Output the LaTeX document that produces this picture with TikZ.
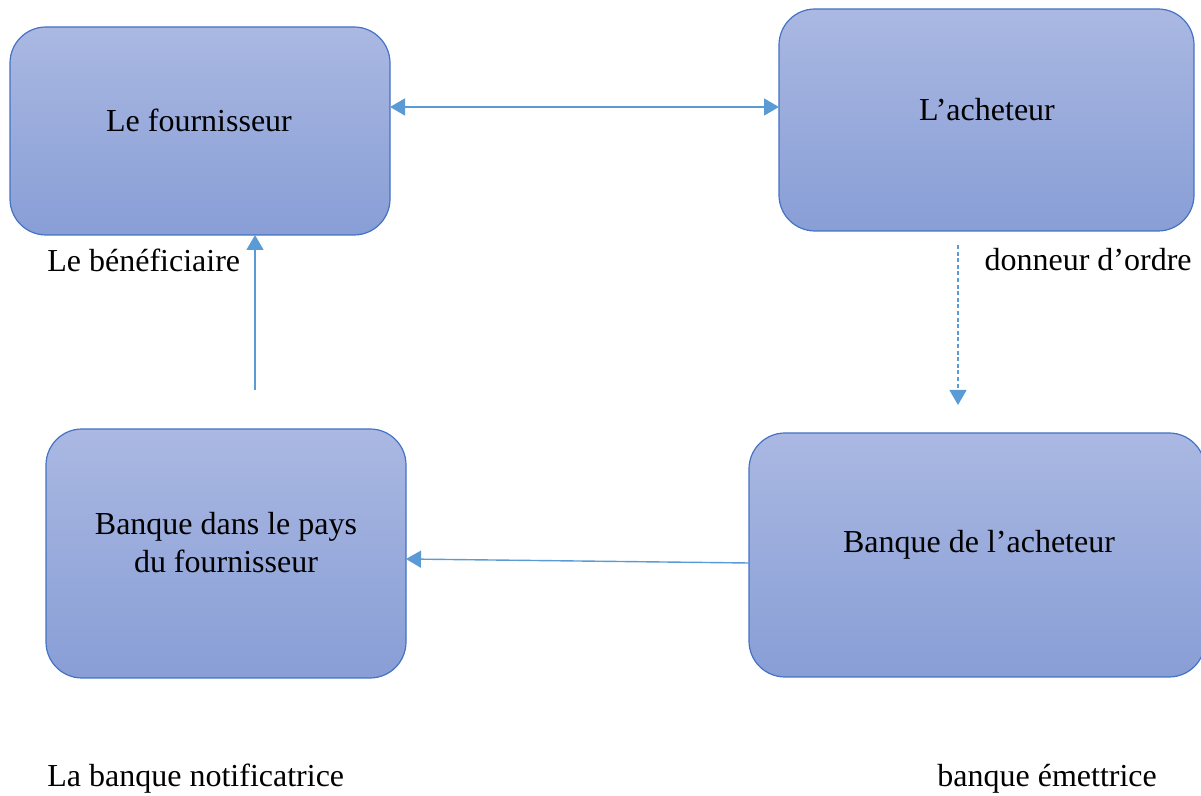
\documentclass[tikz,border=0pt]{standalone}
\usepackage{fontspec}
\setmainfont{Liberation Serif}
\usetikzlibrary{arrows.meta}
\definecolor{boxtop}{RGB}{170,184,226}
\definecolor{boxbot}{RGB}{136,158,214}
\definecolor{boxline}{RGB}{68,114,196}
\definecolor{arr}{RGB}{91,155,213}
\begin{document}
\begin{tikzpicture}[x=0.5pt,y=-0.5pt,
  box/.style={draw=boxline,line width=0.6pt,top color=boxtop,bottom color=boxbot,
    rounded corners=18pt,inner sep=0pt,outer sep=0pt},
  lbl/.style={font=\fontsize{16}{19}\selectfont,inner sep=0pt,align=center},
  conn/.style={draw=arr,line width=0.7pt,-{Triangle[length=7.5pt,width=8.5pt]}},
  conn2/.style={draw=arr,line width=0.7pt,{Triangle[length=7.5pt,width=8.5pt]}-{Triangle[length=7.5pt,width=8.5pt]}}]
\useasboundingbox (0,0) rectangle (1201,796);
\begin{scope}
\clip (0,0) rectangle (1201,796);
\node[box,minimum width=190pt,minimum height=104pt] (f) at (200,131) {};
\node[box,minimum width=207.5pt,minimum height=111pt] (a) at (986.5,120) {};
\node[box,minimum width=180pt,minimum height=124.5pt] (bp) at (226,553.5) {};
\node[box,minimum width=228pt,minimum height=122pt] (ba) at (977,555) {};
\end{scope}
\node[lbl] (tf) at (199,120) {Le fournisseur};
\node[lbl] (ta) at (987,110) {L’acheteur};
\node[lbl] (tbp) at (226,543) {Banque dans le pays\\du fournisseur};
\node[lbl] (tba) at (979,545) {Banque de l’acheteur};
\node[lbl,anchor=west] (r1) at (47,260) {Le bénéficiaire};
\node[lbl,anchor=east] (r2) at (1192,260) {donneur d’ordre};
\node[lbl,anchor=west] (r3) at (47,779) {La banque notificatrice};
\node[lbl,anchor=west] (r4) at (937,779) {banque émettrice};
\draw[conn2] (f.east |- 0,107) -- (a.west |- 0,107);
\coordinate (u1) at (255,390);
\draw[conn] (u1) -- (f.south -| u1);
\coordinate (d1) at (958,245);
\coordinate (d2) at (958,405);
\draw[conn,dash pattern=on 2pt off 1.3pt] (d1) -- (d2);
\draw[conn] (ba.west |- 0,563) -- (bp.east |- 0,559);
\end{tikzpicture}
\end{document}
